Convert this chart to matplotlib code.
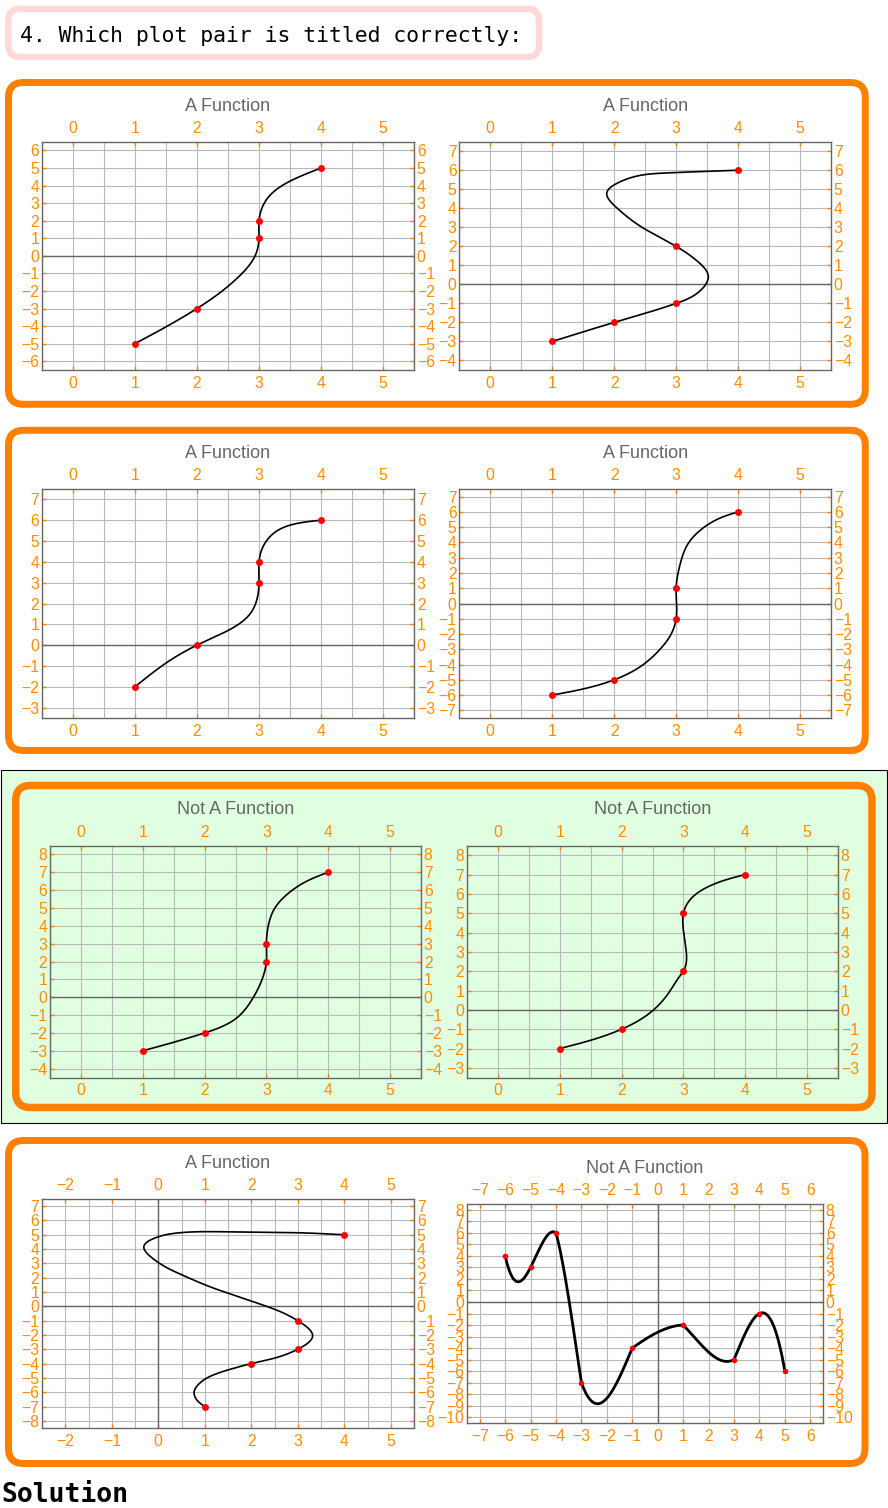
import matplotlib
matplotlib.use("Agg")

import matplotlib.pyplot as plt
import numpy as np
from matplotlib.patches import FancyBboxPatch, Rectangle

plt.rcParams["font.family"] = ["Liberation Sans", "DejaVu Sans"]

W, H = 888, 1508
ORANGE = "#FF8000"
LABEL = "#FF8C00"
GRAY = "#666666"
GRID = "#b8b8b8"
GREEN = "#E0FFE0"
PINK = "#FFD8D8"

HEADER = "4. Which plot pair is titled correctly:"
FOOTER = "Solution"

TITLES = ["A Function", "A Function",
          "A Function", "A Function",
          "Not A Function", "Not A Function",
          "A Function", "Not A Function"]

# marked points (red dots) per plot
P1_X = [1, 2, 3, 3, 4]
P1_Y = [-5, -3, 1, 2, 5]
P2_X = [1, 2, 3, 3, 4]
P2_Y = [-3, -2, -1, 2, 6]
P3_X = [1, 2, 3, 3, 4]
P3_Y = [-2, 0, 3, 4, 6]
P4_X = [1, 2, 3, 3, 4]
P4_Y = [-6, -5, -1, 1, 6]
P5_X = [1, 2, 3, 3, 4]
P5_Y = [-3, -2, 2, 3, 7]
P6_X = [1, 2, 3, 3, 4]
P6_Y = [-2, -1, 2, 5, 7]
P7_X = [1, 2, 3, 3, 4]
P7_Y = [-7, -4, -3, -1, 5]
P8_X = [-6, -5, -4, -3, -1, 1, 3, 4, 5]
P8_Y = [4, 3, 6, -7, -4, -2, -5, -1, -6]

# points read along the drawn curves of plots 1-7
C1_X = [1, 2, 2.69, 2.96, 3, 3, 3.12, 3.55, 4]
C1_Y = [-5, -3, -1.13, 0.2, 1, 2, 3.2, 4.34, 5]
C2_X = [1, 2, 3, 3.4, 3.52, 3.35, 3, 2.45, 2.05, 1.88, 2.1, 2.8, 4]
C2_Y = [-3, -2, -1, -0.3, 0.4, 1.2, 2, 3, 4, 4.8, 5.4, 5.85, 6]
C3_X = [1, 1.5, 2, 2.53, 2.88, 3, 3, 3.06, 3.27, 3.62, 4]
C3_Y = [-2, -0.86, 0, 0.75, 1.6, 3, 4, 4.7, 5.45, 5.85, 6]
C4_X = [1, 2, 2.47, 2.74, 2.92, 3, 3, 3.06, 3.19, 3.39, 3.71, 4]
C4_Y = [-6, -5, -4, -3, -2, -1, 1, 2.5, 3.9, 4.8, 5.6, 6]
C5_X = [1, 2, 2.54, 2.79, 2.93, 3, 3, 3.03, 3.13, 3.32, 3.64, 4]
C5_Y = [-3, -2, -1.1, 0, 1, 2, 3, 4, 4.96, 5.72, 6.48, 7]
C6_X = [1, 2, 2.48, 2.76, 2.94, 3, 3.03, 2.99, 3, 3.08, 3.4, 4]
C6_Y = [-2, -1, -0.1, 0.87, 1.74, 2, 3.4, 4.5, 5, 5.58, 6.37, 7]
C7_X = [1, 0.82, 0.77, 0.89, 1.18, 1.62, 2, 3, 3.32, 3, 2.33, 1.04, 0.46,
        -0.1, -0.31, 0, 0.32, 1.61, 3.05, 4]
C7_Y = [-7, -6.5, -6.06, -5.37, -4.8, -4.33, -4, -3, -2.08, -1, 0, 1.46, 2.27,
        3.3, 4.17, 4.86, 5.09, 5.2, 5.14, 5]


def natural_spline(t, v, tt):
    n = len(t)
    h = np.diff(t)
    A = np.zeros((n, n))
    r = np.zeros(n)
    A[0, 0] = A[-1, -1] = 1
    for i in range(1, n - 1):
        A[i, i - 1] = h[i - 1]
        A[i, i] = 2 * (h[i - 1] + h[i])
        A[i, i + 1] = h[i]
        r[i] = 6 * ((v[i + 1] - v[i]) / h[i] - (v[i] - v[i - 1]) / h[i - 1])
    M = np.linalg.solve(A, r)
    k = np.clip(np.searchsorted(t, tt) - 1, 0, n - 2)
    hh = t[k + 1] - t[k]
    a = (t[k + 1] - tt) / hh
    b = (tt - t[k]) / hh
    return a * v[k] + b * v[k + 1] + ((a ** 3 - a) * M[k] + (b ** 3 - b) * M[k + 1]) * hh ** 2 / 6


def smooth_path(xs, ys, sx, sy, n=800):
    # chord-length parametric spline, measured in screen pixels
    p = np.column_stack([np.asarray(xs, float) * sx, np.asarray(ys, float) * sy])
    d = np.hypot(*np.diff(p, axis=0).T)
    t = np.concatenate([[0], np.cumsum(d)])
    tt = np.linspace(0, t[-1], n)
    return natural_spline(t, p[:, 0], tt) / sx, natural_spline(t, p[:, 1], tt) / sy


def local_cubic(xk, yk, n=800):
    # piecewise cubic through the 4 neighbouring points (only C0 at the knots)
    xk = np.asarray(xk, float)
    yk = np.asarray(yk, float)
    m = len(xk)
    xx = np.linspace(xk[0], xk[-1], n)
    yy = np.empty_like(xx)
    for j, x in enumerate(xx):
        i = int(np.clip(np.searchsorted(xk, x) - 1, 0, m - 2))
        s = int(np.clip(i - 1, 0, m - 4))
        idx = range(s, s + 4)
        val = 0.0
        for a in idx:
            L = 1.0
            for b in idx:
                if b != a:
                    L *= (x - xk[b]) / (xk[a] - xk[b])
            val += yk[a] * L
        yy[j] = val
    return xx, yy


fig = plt.figure(figsize=(W / 100, H / 100), dpi=100)
bg = fig.add_axes([0, 0, 1, 1])
bg.set_xlim(0, W)
bg.set_ylim(H, 0)
bg.axis("off")
bg.set_zorder(0)


def rbox(x0, y0, x1, y1, color, lw_px, radius):
    bg.add_patch(FancyBboxPatch((x0, y0), x1 - x0, y1 - y0,
                                boxstyle=f"round,pad=0,rounding_size={radius}",
                                fc="none", ec=color, lw=lw_px * 0.72))


# header + section frames
rbox(8.3, 8.8, 539, 57, PINK, 6.5, 12)
bg.text(20, 42.3, HEADER, family="DejaVu Sans Mono", fontsize=15.4,
        va="baseline", ha="left", color="black")
rbox(8.5, 82.5, 865.3, 404.3, ORANGE, 7, 15)
rbox(8.5, 430.3, 865.3, 750.5, ORANGE, 7, 15)
bg.add_patch(Rectangle((0.5, 770), 886, 353, fc=GREEN, ec="black", lw=0.8))
rbox(15.7, 785.5, 872, 1107.5, ORANGE, 7.5, 15)
rbox(8.5, 1140.5, 865, 1463.5, ORANGE, 7, 15)
bg.text(1, 1502, FOOTER, family="DejaVu Sans Mono", fontweight="bold",
        fontsize=19, va="baseline", ha="left", color="black")


def draw_panel(box, xlim, ylim, half_grid, title, mx, my, cx=None, cy=None,
               lw=1.2, ms=5, vzero=False):
    l, t, r, b = box
    ax = fig.add_axes([l / W, 1 - b / H, (r - l) / W, (b - t) / H])
    ax.set_zorder(2)
    ax.patch.set_visible(False)
    ax.set_xlim(xlim)
    ax.set_ylim(ylim)
    ax.set_xticks(np.arange(int(np.ceil(xlim[0])), int(np.floor(xlim[1])) + 1))
    ax.set_yticks(np.arange(int(np.ceil(ylim[0])), int(np.floor(ylim[1])) + 1))
    if half_grid:
        ax.set_xticks(np.arange(np.ceil(xlim[0] * 2) / 2, xlim[1] + 0.01, 0.5), minor=True)
        ax.grid(True, which="minor", axis="x", color=GRID, lw=0.8)
    ax.grid(True, which="major", axis="both", color=GRID, lw=0.8)
    ax.set_axisbelow(True)
    ax.tick_params(which="minor", length=0)
    ax.tick_params(which="major", direction="in", length=3, width=1,
                   color=ORANGE, labelcolor=LABEL, labelsize=11.3,
                   top=True, right=True, labeltop=True, labelright=True)
    ax.tick_params(axis="x", pad=4)
    ax.tick_params(axis="y", pad=2)
    for s in ax.spines.values():
        s.set_color(GRAY)
        s.set_linewidth(1)
    ax.axhline(0, color=GRAY, lw=1, zorder=1.5)
    if vzero:
        ax.axvline(0, color=GRAY, lw=1, zorder=1.5)
    if cx is None:
        px, py = local_cubic(mx, my)
    else:
        px, py = smooth_path(cx, cy, (r - l) / (xlim[1] - xlim[0]),
                             (b - t) / (ylim[1] - ylim[0]))
    ax.plot(px, py, color="black", lw=lw, zorder=3)
    ax.plot(mx, my, "o", color="red", ms=ms, mec="none", zorder=4)
    bg.text((l + r) / 2, t - 35.5, title, ha="center", va="center",
            fontsize=13, color=GRAY)
    return ax


draw_panel((42, 141.7, 414, 370), (-0.5, 5.5), (-6.5, 6.5), True, TITLES[0],
           P1_X, P1_Y, C1_X, C1_Y)
draw_panel((459.3, 141.7, 831, 370), (-0.5, 5.5), (-4.5, 7.5), True, TITLES[1],
           P2_X, P2_Y, C2_X, C2_Y)
draw_panel((42, 489, 414, 718), (-0.5, 5.5), (-3.5, 7.5), True, TITLES[2],
           P3_X, P3_Y, C3_X, C3_Y)
draw_panel((459.3, 489, 831, 718), (-0.5, 5.5), (-7.5, 7.5), True, TITLES[3],
           P4_X, P4_Y, C4_X, C4_Y)
draw_panel((50, 845.5, 421, 1077.6), (-0.5, 5.5), (-4.5, 8.5), True, TITLES[4],
           P5_X, P5_Y, C5_X, C5_Y)
draw_panel((467, 845.5, 838, 1077.6), (-0.5, 5.5), (-3.5, 8.5), True, TITLES[5],
           P6_X, P6_Y, C6_X, C6_Y)
draw_panel((42, 1199, 414, 1428), (-2.5, 5.5), (-8.5, 7.5), True, TITLES[6],
           P7_X, P7_Y, C7_X, C7_Y, vzero=True)
draw_panel((467, 1204, 823, 1423), (-7.5, 6.5), (-10.5, 8.5), False, TITLES[7],
           P8_X, P8_Y, lw=2, ms=4, vzero=True)

fig.savefig("out.png", dpi=100)
plt.close(fig)
